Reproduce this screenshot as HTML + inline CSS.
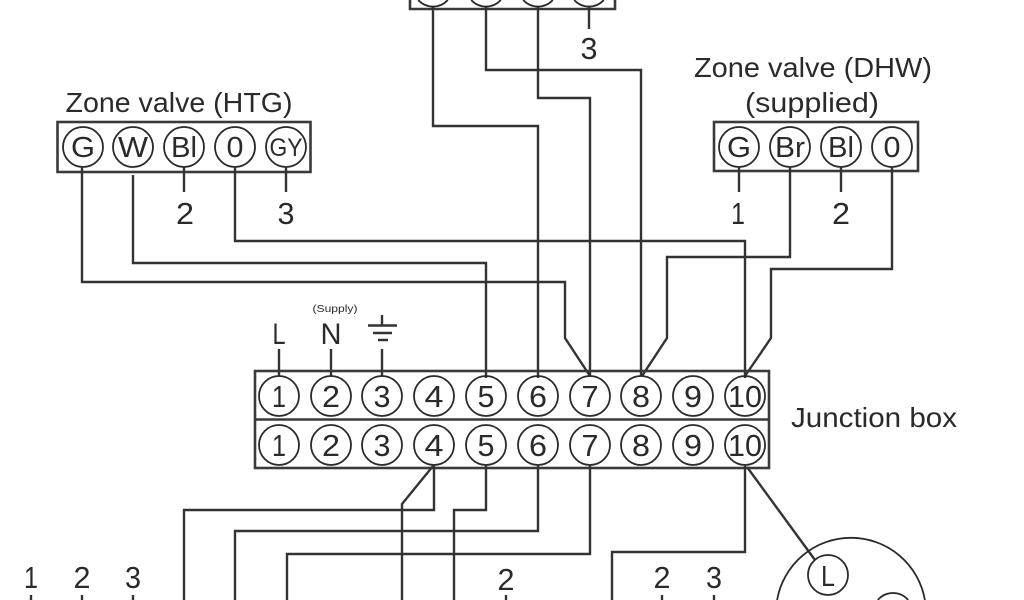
<!DOCTYPE html>
<html><head><meta charset="utf-8"><style>
html,body{margin:0;padding:0;background:#fff;width:1024px;height:600px;overflow:hidden}
svg{display:block;overflow:hidden}
text{font-family:"Liberation Sans",sans-serif;fill:#2a2a2a;text-anchor:middle}
.w{fill:none;stroke:#333;stroke-width:2.4;stroke-linejoin:miter}
.b{fill:none;stroke:#3a3a3a;stroke-width:2.6}
.c{fill:none;stroke:#2a2a2a;stroke-width:1.8}
.t{font-size:29px}
.s{font-size:25px}
.n{font-size:31px}
</style></head><body>
<svg width="1024" height="600" viewBox="0 0 1024 600" xmlns="http://www.w3.org/2000/svg">
<rect x="0" y="0" width="1024" height="600" fill="#fff"/>

<!-- top box -->
<path class="b" d="M410 0V9H615V0"/>
<path class="c" d="M418.200 0A20 20 0 0 0 447.800 0M471.200 0A20 20 0 0 0 500.800 0M523.200 0A20 20 0 0 0 552.800 0M574.200 0A20 20 0 0 0 603.800 0"/>
<path class="w" d="M433 7V126H538V378"/>
<path class="w" d="M486 7V70H641V376"/>
<path class="w" d="M538 7V98H590V376"/>
<path class="w" d="M589 7V29"/>
<text class="n" x="589" y="59" textLength="17" lengthAdjust="spacingAndGlyphs">3</text>

<!-- HTG -->
<text x="179" y="112" font-size="28" textLength="227" lengthAdjust="spacingAndGlyphs">Zone valve (HTG)</text>
<rect class="b" x="57.500" y="122" width="253" height="50"/>
<circle class="c" cx="83" cy="147" r="20"/><circle class="c" cx="133" cy="147" r="20"/><circle class="c" cx="184" cy="147" r="20"/><circle class="c" cx="235" cy="147" r="20"/><circle class="c" cx="286" cy="147" r="20"/>
<text class="t" x="83" y="157" textLength="24" lengthAdjust="spacingAndGlyphs">G</text>
<text class="t" x="133" y="157" textLength="30" lengthAdjust="spacingAndGlyphs">W</text>
<text class="t" x="184" y="157" textLength="26" lengthAdjust="spacingAndGlyphs">Bl</text>
<text class="t" x="235" y="157" textLength="17" lengthAdjust="spacingAndGlyphs">0</text>
<text class="s" x="286" y="156" textLength="33" lengthAdjust="spacingAndGlyphs">GY</text>
<path class="w" d="M82 167V282H565V338L590 376"/>
<path class="w" d="M133 175V263H486V378"/>
<path class="w" d="M235 167V241H745V378"/>
<path class="w" d="M184 167V192M286 167V192"/>
<text class="n" x="185" y="224" textLength="18" lengthAdjust="spacingAndGlyphs">2</text>
<text class="n" x="286" y="224" textLength="17" lengthAdjust="spacingAndGlyphs">3</text>

<!-- DHW -->
<text x="813" y="77" font-size="28" textLength="238" lengthAdjust="spacingAndGlyphs">Zone valve (DHW)</text>
<text x="812" y="112" font-size="28" textLength="134" lengthAdjust="spacingAndGlyphs">(supplied)</text>
<rect class="b" x="714" y="122" width="204" height="49"/>
<circle class="c" cx="739" cy="147" r="20"/><circle class="c" cx="790" cy="147" r="20"/><circle class="c" cx="841" cy="147" r="20"/><circle class="c" cx="892" cy="147" r="20"/>
<text class="t" x="739" y="157" textLength="24" lengthAdjust="spacingAndGlyphs">G</text>
<text class="t" x="790" y="157" textLength="30" lengthAdjust="spacingAndGlyphs">Br</text>
<text class="t" x="841" y="157" textLength="26" lengthAdjust="spacingAndGlyphs">Bl</text>
<text class="t" x="892" y="157" textLength="17" lengthAdjust="spacingAndGlyphs">0</text>
<path class="w" d="M739 167V192M841 167V192"/>
<path class="w" d="M790 167V257H667V338L642 376"/>
<path class="w" d="M892 167V269H771V338L745 376"/>
<text class="n" x="738" y="224" textLength="14" lengthAdjust="spacingAndGlyphs">1</text>
<text class="n" x="841" y="224" textLength="18" lengthAdjust="spacingAndGlyphs">2</text>

<!-- supply -->
<text x="335" y="312" font-size="10" textLength="45" lengthAdjust="spacingAndGlyphs">(Supply)</text>
<text x="279" y="344" font-size="30" textLength="13" lengthAdjust="spacingAndGlyphs">L</text>
<text x="331" y="344" font-size="30" textLength="21" lengthAdjust="spacingAndGlyphs">N</text>
<path class="w" d="M382 315V325M368 325.500H397M373 333H392M378 340H388"/>
<path class="w" d="M279 349V376M331 349V376M382 349V376"/>

<!-- junction box -->
<rect class="b" x="255" y="371" width="514" height="97"/>
<path class="b" d="M255 419.500H769"/>
<g class="c">
<circle cx="279" cy="396" r="20"/><circle cx="331" cy="396" r="20"/><circle cx="382" cy="396" r="20"/><circle cx="434" cy="396" r="20"/><circle cx="486" cy="396" r="20"/><circle cx="538" cy="396" r="20"/><circle cx="590" cy="396" r="20"/><circle cx="641" cy="396" r="20"/><circle cx="693" cy="396" r="20"/><circle cx="745" cy="396" r="20"/>
<circle cx="279" cy="445" r="20"/><circle cx="331" cy="445" r="20"/><circle cx="382" cy="445" r="20"/><circle cx="434" cy="445" r="20"/><circle cx="486" cy="445" r="20"/><circle cx="538" cy="445" r="20"/><circle cx="590" cy="445" r="20"/><circle cx="641" cy="445" r="20"/><circle cx="693" cy="445" r="20"/><circle cx="745" cy="445" r="20"/>
</g>
<g>
<text class="n" x="279" y="407" textLength="14" lengthAdjust="spacingAndGlyphs">1</text><text class="n" x="331" y="407" textLength="18" lengthAdjust="spacingAndGlyphs">2</text><text class="n" x="382" y="407" textLength="17" lengthAdjust="spacingAndGlyphs">3</text><text class="n" x="434" y="407" textLength="19" lengthAdjust="spacingAndGlyphs">4</text><text class="n" x="486" y="407" textLength="17" lengthAdjust="spacingAndGlyphs">5</text><text class="n" x="538" y="407" textLength="18" lengthAdjust="spacingAndGlyphs">6</text><text class="n" x="590" y="407" textLength="17" lengthAdjust="spacingAndGlyphs">7</text><text class="n" x="641" y="407" textLength="18" lengthAdjust="spacingAndGlyphs">8</text><text class="n" x="693" y="407" textLength="18" lengthAdjust="spacingAndGlyphs">9</text><text class="n" x="745" y="407" textLength="34" lengthAdjust="spacingAndGlyphs">10</text>
<text class="n" x="279" y="456" textLength="14" lengthAdjust="spacingAndGlyphs">1</text><text class="n" x="331" y="456" textLength="18" lengthAdjust="spacingAndGlyphs">2</text><text class="n" x="382" y="456" textLength="17" lengthAdjust="spacingAndGlyphs">3</text><text class="n" x="434" y="456" textLength="19" lengthAdjust="spacingAndGlyphs">4</text><text class="n" x="486" y="456" textLength="17" lengthAdjust="spacingAndGlyphs">5</text><text class="n" x="538" y="456" textLength="18" lengthAdjust="spacingAndGlyphs">6</text><text class="n" x="590" y="456" textLength="17" lengthAdjust="spacingAndGlyphs">7</text><text class="n" x="641" y="456" textLength="18" lengthAdjust="spacingAndGlyphs">8</text><text class="n" x="693" y="456" textLength="18" lengthAdjust="spacingAndGlyphs">9</text><text class="n" x="745" y="456" textLength="34" lengthAdjust="spacingAndGlyphs">10</text>
</g>
<text x="874" y="427" font-size="28" textLength="166" lengthAdjust="spacingAndGlyphs">Junction box</text>

<!-- bottom wires -->
<path class="w" d="M434 465V510H184V600"/>
<path class="w" d="M433 466L402 504V600"/>
<path class="w" d="M486 465V510H454V600"/>
<path class="w" d="M538 465V531H235V600"/>
<path class="w" d="M590 465V554H287V600"/>
<path class="w" d="M745 465V552H612V600"/>
<path class="w" d="M747 467L815 560" stroke-width="2"/>

<!-- bottom circle, clipped by the frame -->
<path class="c" d="M777.100 600A75 75 0 0 1 924.900 600" stroke-width="2"/>
<circle cx="828" cy="575" r="20" fill="#fff" stroke="#2a2a2a" stroke-width="1.800"/>
<text class="t" x="828" y="586" font-size="27" textLength="14" lengthAdjust="spacingAndGlyphs">L</text>
<path class="c" d="M877.800 600A20 20 0 0 1 908.200 600"/>

<!-- bottom numbers -->
<text class="n" x="31" y="588" textLength="14" lengthAdjust="spacingAndGlyphs">1</text>
<text class="n" x="82" y="588" textLength="17" lengthAdjust="spacingAndGlyphs">2</text>
<text class="n" x="133" y="588" textLength="16" lengthAdjust="spacingAndGlyphs">3</text>
<text class="n" x="506" y="590" textLength="17" lengthAdjust="spacingAndGlyphs">2</text>
<text class="n" x="662" y="588" textLength="17" lengthAdjust="spacingAndGlyphs">2</text>
<text class="n" x="714" y="588" textLength="16" lengthAdjust="spacingAndGlyphs">3</text>
<path class="w" d="M31 595V600M82 595V600M133 595V600M506 595V600M662 595V600M714 595V600" stroke-width="2"/>
</svg>
</body></html>
